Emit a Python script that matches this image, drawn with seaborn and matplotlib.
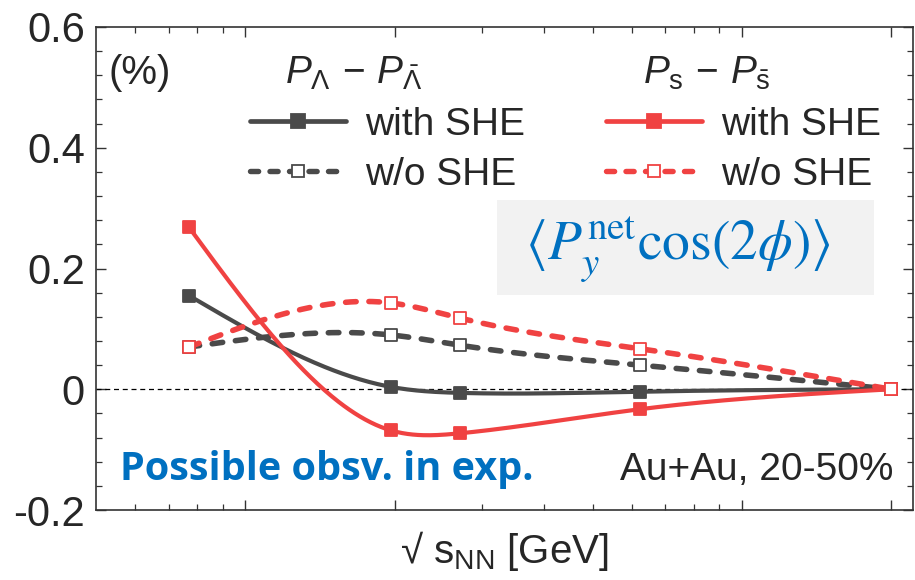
import numpy as np
import pandas as pd
import matplotlib
matplotlib.use("Agg")
import matplotlib.pyplot as plt
from matplotlib.lines import Line2D
from matplotlib.patches import Rectangle
from matplotlib.ticker import FixedLocator, NullFormatter, MultipleLocator
import seaborn as sns

# ---- data ----
energies = [7.7, 19.6, 27.0, 62.4, 200.0]
lam_with = [0.155, 0.004, -0.006, -0.004, 0.0]
lam_without = [0.070, 0.090, 0.073, 0.040, 0.0]
s_with = [0.268, -0.068, -0.073, -0.033, 0.0]
s_without = [0.070, 0.143, 0.118, 0.067, 0.0]
y_ticks = [-0.2, 0, 0.2, 0.4, 0.6]
y_ticklabels = ["-0.2", "0", "0.2", "0.4", "0.6"]

GRAY = "#4a4a4a"
RED = "#f04242"
BLUE = "#0070c0"

sns.set_theme(style="ticks")
plt.rcParams["font.family"] = ["Liberation Sans", "DejaVu Sans"]
plt.rcParams["mathtext.fontset"] = "custom"
plt.rcParams["mathtext.rm"] = "Liberation Sans"
plt.rcParams["mathtext.it"] = "Liberation Sans:italic"
plt.rcParams["mathtext.bf"] = "Liberation Sans:bold"


def natural_spline(x, y, xs):
    x = np.asarray(x, float)
    y = np.asarray(y, float)
    n = len(x)
    h = np.diff(x)
    A = np.zeros((n, n))
    b = np.zeros(n)
    A[0, 0] = 1
    A[-1, -1] = 1
    for i in range(1, n - 1):
        A[i, i - 1] = h[i - 1]
        A[i, i] = 2 * (h[i - 1] + h[i])
        A[i, i + 1] = h[i]
        b[i] = 6 * ((y[i + 1] - y[i]) / h[i] - (y[i] - y[i - 1]) / h[i - 1])
    M = np.linalg.solve(A, b)
    out = np.empty_like(xs)
    for k, xv in enumerate(xs):
        i = min(max(np.searchsorted(x, xv) - 1, 0), n - 2)
        t1 = x[i + 1] - xv
        t0 = xv - x[i]
        out[k] = (M[i] * t1 ** 3 / (6 * h[i]) + M[i + 1] * t0 ** 3 / (6 * h[i])
                  + (y[i] / h[i] - M[i] * h[i] / 6) * t1
                  + (y[i + 1] / h[i] - M[i + 1] * h[i] / 6) * t0)
    return out


fig = plt.figure(figsize=(9.15, 5.8), dpi=100)
ax = fig.add_axes([96 / 915, 1 - 510 / 580, 817 / 915, 483 / 580])

lx = np.log10(energies)
xs = np.linspace(lx[0], lx[-1], 400)

series = [
    ("lam_with", lam_with, GRAY, "-", True),
    ("lam_without", lam_without, GRAY, "--", False),
    ("s_with", s_with, RED, "-", True),
    ("s_without", s_without, RED, "--", False),
]

ax.axhline(0, color="black", lw=0.9, ls=(0, (4, 3)), zorder=1)

for name, vals, col, ls, filled in series:
    curve = pd.DataFrame({"x": 10 ** xs, "y": natural_spline(lx, vals, xs)})
    if ls == "-":
        sns.lineplot(data=curve, x="x", y="y", ax=ax, color=col, lw=3.0,
                     sort=False, zorder=2)
    else:
        sns.lineplot(data=curve, x="x", y="y", ax=ax, color=col, lw=4.0,
                     sort=False, zorder=2)
        ax.lines[-1].set_linestyle((0, (1.9, 2.3)))
        ax.lines[-1].set_dash_capstyle("round")
    pts = pd.DataFrame({"x": energies, "y": vals})
    sns.scatterplot(data=pts, x="x", y="y", ax=ax, marker="s", s=85,
                    color=col if filled else "white", edgecolor=col,
                    linewidth=1.3, zorder=3)

ax.set_xscale("log")
ax.set_xlim(5, 221)
ax.set_ylim(-0.2, 0.6)
ax.xaxis.set_major_locator(FixedLocator([10, 20, 100, 200]))
ax.xaxis.set_minor_locator(FixedLocator([6, 7, 8, 9, 30, 40, 50, 60, 70, 80, 90]))
ax.xaxis.set_major_formatter(NullFormatter())
ax.xaxis.set_minor_formatter(NullFormatter())
ax.set_yticks(y_ticks)
ax.set_yticklabels(y_ticklabels)
ax.yaxis.set_minor_locator(MultipleLocator(0.04))
ax.tick_params(which="both", direction="in", top=True, right=True, color="#333333")
ax.tick_params(which="major", length=7, width=1.0, labelsize=30, pad=8)
ax.tick_params(which="minor", length=4, width=0.9)
for sp in ax.spines.values():
    sp.set_color("#333333")
    sp.set_linewidth(1.2)
ax.set_ylabel("")
ax.set_xlabel("√ s$_{\\rm NN}$ [GeV]", fontsize=29, labelpad=6)


def handle(col, filled, ls):
    return Line2D([0], [0], color=col, lw=3.4 if ls == "-" else 3.9,
                  ls="-" if ls == "-" else (0, (1.5, 2.1)),
                  dash_capstyle="round", solid_capstyle="round",
                  marker="s", markersize=10 if filled else 9,
                  markerfacecolor=col if filled else "white",
                  markeredgecolor=col, markeredgewidth=1.3)


leg_kw = dict(loc="upper left", frameon=False, fontsize=28, handlelength=2.45,
              handletextpad=0.5, labelspacing=0.36, borderpad=0)
leg1 = ax.legend([handle(GRAY, True, "-"), handle(GRAY, False, "--")],
                 ["with SHE", "w/o SHE"], bbox_to_anchor=(0.165, 0.875), **leg_kw)
ax.add_artist(leg1)
ax.legend([handle(RED, True, "-"), handle(RED, False, "--")],
          ["with SHE", "w/o SHE"], bbox_to_anchor=(0.601, 0.875), **leg_kw)

ax.text(0.231, 0.905, r"$P_{\Lambda}\,-\,P_{\bar{\Lambda}}$", transform=ax.transAxes,
        fontsize=28, va="center", ha="left")
ax.text(0.670, 0.905, r"$P_{\rm s}\,-\,P_{\bar{\rm s}}$", transform=ax.transAxes,
        fontsize=28, va="center", ha="left")
ax.text(0.015, 0.905, "(%)", transform=ax.transAxes, fontsize=29,
        va="center", ha="left")

ax.add_patch(Rectangle((0.491, 0.445), 0.461, 0.197, transform=ax.transAxes,
                       fc="#f2f2f2", ec="none", zorder=0.5))
ax.text(0.712, 0.540, r"$\langle P_y^{\rm net}\cos(2\phi)\rangle$",
        transform=ax.transAxes, fontsize=40, color=BLUE, va="center",
        ha="center", math_fontfamily="stix")

ax.text(0.029, 0.083, "Possible obsv. in exp.", transform=ax.transAxes,
        fontsize=28.5, color=BLUE, fontweight="bold", family=["Open Sans"],
        va="center", ha="left")
ax.text(0.9755, 0.083, "Au+Au, 20-50%", transform=ax.transAxes, fontsize=28,
        va="center", ha="right")

fig.savefig("out.png", dpi=100)
